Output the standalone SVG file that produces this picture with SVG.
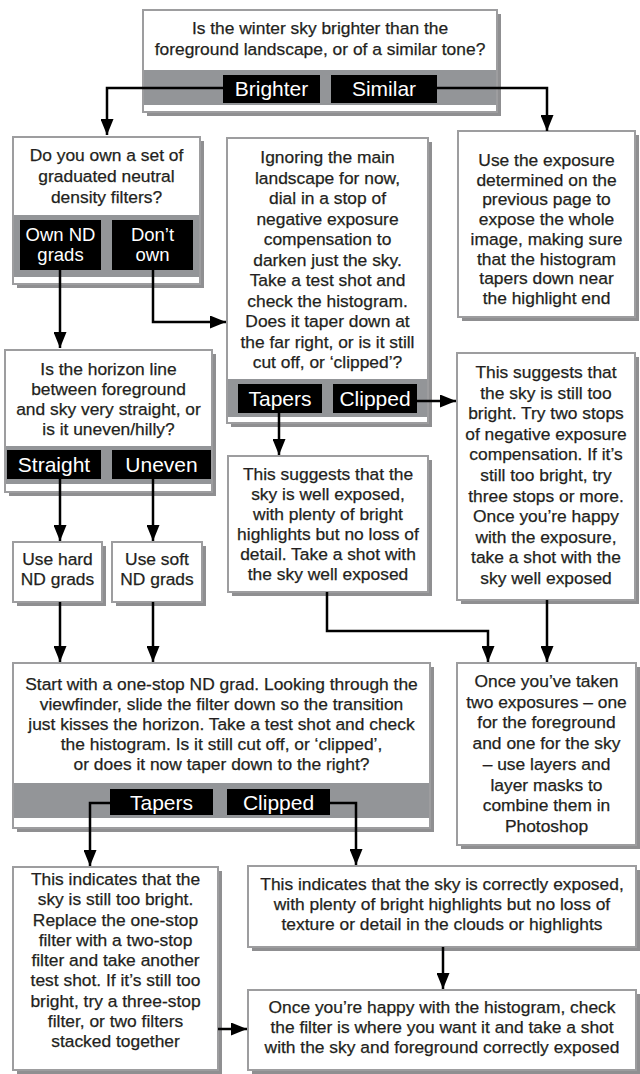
<svg xmlns="http://www.w3.org/2000/svg" width="640" height="1074" viewBox="0 0 640 1074">
  <style>
    .shadow{fill:#8f8f91}
    .box{fill:#fff;stroke:#9d9d9f;stroke-width:2}
    .band{fill:#939598}
    .lab{fill:#000}
    .t{font-family:"Liberation Sans",Arial,sans-serif;font-size:17.4px;fill:#231f20;stroke:#231f20;stroke-width:0.25;text-anchor:middle}
    .lt{font-family:"Liberation Sans",Arial,sans-serif;font-size:21px;fill:#fff;text-anchor:middle}
    .ls{font-family:"Liberation Sans",Arial,sans-serif;font-size:18.5px;fill:#fff;text-anchor:middle}
    .wire{fill:none;stroke:#000;stroke-width:2.5;marker-end:url(#ah)}
  </style>
  <defs>
    <marker id="ah" markerUnits="userSpaceOnUse" viewBox="0 0 16 13" markerWidth="16" markerHeight="13" refX="16" refY="6.5" orient="auto">
      <path d="M0,0 L16,6.5 L0,13 z" fill="#000"/>
    </marker>
  </defs>
  <rect width="640" height="1074" fill="#fff"/>

  <!-- Q1: sky vs foreground -->
  <g id="q-sky-tone">
    <rect class="shadow" x="147" y="14" width="354" height="102"/>
    <rect class="box" x="143" y="10" width="354" height="102"/>
    <rect class="band" x="144" y="70" width="352" height="35"/>
    <rect class="lab" x="223" y="75" width="97" height="28"/>
    <rect class="lab" x="331" y="75" width="106" height="28"/>
    <text class="t" x="320" y="34">Is the winter sky brighter than the</text>
    <text class="t" x="320" y="55">foreground landscape, or of a similar tone?</text>
    <text class="lt" x="271.5" y="96">Brighter</text>
    <text class="lt" x="384" y="96">Similar</text>
  </g>

  <!-- Q2: own ND grads -->
  <g id="q-own-grads">
    <rect class="shadow" x="17" y="141" width="187" height="147"/>
    <rect class="box" x="13" y="137" width="187" height="147"/>
    <rect class="band" x="14" y="215" width="185" height="62"/>
    <rect class="lab" x="20" y="220" width="81" height="50"/>
    <rect class="lab" x="112" y="220" width="81" height="50"/>
    <text class="t" x="106.5" y="161">Do you own a set of</text>
    <text class="t" x="106.5" y="182">graduated neutral</text>
    <text class="t" x="106.5" y="203">density filters?</text>
    <text class="ls" x="60.5" y="241">Own ND</text>
    <text class="ls" x="60.5" y="261">grads</text>
    <text class="ls" x="152.5" y="241">Don’t</text>
    <text class="ls" x="152.5" y="261">own</text>
  </g>

  <!-- Q3: negative exposure compensation test -->
  <g id="q-neg-comp">
    <rect class="shadow" x="231" y="142" width="201" height="285"/>
    <rect class="box" x="227" y="138" width="201" height="285"/>
    <rect class="band" x="228" y="379" width="199" height="38"/>
    <rect class="lab" x="238" y="384" width="84" height="29"/>
    <rect class="lab" x="333" y="384" width="84" height="29"/>
    <text class="t" x="327.5" y="163">Ignoring the main</text>
    <text class="t" x="327.5" y="183.5">landscape for now,</text>
    <text class="t" x="327.5" y="204">dial in a stop of</text>
    <text class="t" x="327.5" y="224.5">negative exposure</text>
    <text class="t" x="327.5" y="245">compensation to</text>
    <text class="t" x="327.5" y="265.5">darken just the sky.</text>
    <text class="t" x="327.5" y="286">Take a test shot and</text>
    <text class="t" x="327.5" y="306.5">check the histogram.</text>
    <text class="t" x="327.5" y="327">Does it taper down at</text>
    <text class="t" x="327.5" y="347.5">the far right, or is it still</text>
    <text class="t" x="327.5" y="368">cut off, or ‘clipped’?</text>
    <text class="lt" x="280" y="406">Tapers</text>
    <text class="lt" x="375" y="406">Clipped</text>
  </g>

  <!-- similar tone: single exposure -->
  <g id="a-single-exposure">
    <rect class="shadow" x="462" y="135" width="177" height="186"/>
    <rect class="box" x="458" y="131" width="177" height="186"/>
    <text class="t" x="546.5" y="166">Use the exposure</text>
    <text class="t" x="546.5" y="185.7">determined on the</text>
    <text class="t" x="546.5" y="205.4">previous page to</text>
    <text class="t" x="546.5" y="225.1">expose the whole</text>
    <text class="t" x="546.5" y="244.8">image, making sure</text>
    <text class="t" x="546.5" y="264.5">that the histogram</text>
    <text class="t" x="546.5" y="284.2">tapers down near</text>
    <text class="t" x="546.5" y="304">the highlight end</text>
  </g>

  <!-- Q4: horizon shape -->
  <g id="q-horizon">
    <rect class="shadow" x="9" y="354" width="207" height="142"/>
    <rect class="box" x="5" y="350" width="207" height="142"/>
    <rect class="band" x="6" y="446" width="205" height="38"/>
    <rect class="lab" x="7" y="450" width="94" height="29"/>
    <rect class="lab" x="112" y="450" width="99" height="29"/>
    <text class="t" x="108.5" y="375">Is the horizon line</text>
    <text class="t" x="108.5" y="395">between foreground</text>
    <text class="t" x="108.5" y="415">and sky very straight, or</text>
    <text class="t" x="108.5" y="435">is it uneven/hilly?</text>
    <text class="lt" x="54" y="472">Straight</text>
    <text class="lt" x="161.5" y="472">Uneven</text>
  </g>

  <!-- sky well exposed -->
  <g id="a-sky-well-exposed">
    <rect class="shadow" x="232" y="460" width="200" height="136"/>
    <rect class="box" x="228" y="456" width="200" height="136"/>
    <text class="t" x="328" y="480">This suggests that the</text>
    <text class="t" x="328" y="500">sky is well exposed,</text>
    <text class="t" x="328" y="520">with plenty of bright</text>
    <text class="t" x="328" y="540">highlights but no loss of</text>
    <text class="t" x="328" y="560">detail. Take a shot with</text>
    <text class="t" x="328" y="580">the sky well exposed</text>
  </g>

  <!-- sky still too bright -->
  <g id="a-sky-too-bright">
    <rect class="shadow" x="461" y="357" width="178" height="247"/>
    <rect class="box" x="457" y="353" width="178" height="247"/>
    <text class="t" x="546" y="378">This suggests that</text>
    <text class="t" x="546" y="398.6">the sky is still too</text>
    <text class="t" x="546" y="419.2">bright. Try two stops</text>
    <text class="t" x="546" y="439.8">of negative exposure</text>
    <text class="t" x="546" y="460.4">compensation. If it’s</text>
    <text class="t" x="546" y="481">still too bright, try</text>
    <text class="t" x="546" y="501.6">three stops or more.</text>
    <text class="t" x="546" y="522.2">Once you’re happy</text>
    <text class="t" x="546" y="542.8">with the exposure,</text>
    <text class="t" x="546" y="563.4">take a shot with the</text>
    <text class="t" x="546" y="584">sky well exposed</text>
  </g>

  <!-- hard grads -->
  <g id="a-hard-grads">
    <rect class="shadow" x="17" y="546" width="89" height="60"/>
    <rect class="box" x="13" y="542" width="89" height="60"/>
    <text class="t" x="57.5" y="565">Use hard</text>
    <text class="t" x="57.5" y="585">ND grads</text>
  </g>

  <!-- soft grads -->
  <g id="a-soft-grads">
    <rect class="shadow" x="116" y="546" width="90" height="60"/>
    <rect class="box" x="112" y="542" width="90" height="60"/>
    <text class="t" x="157" y="565">Use soft</text>
    <text class="t" x="157" y="585">ND grads</text>
  </g>

  <!-- Q5: one-stop grad test -->
  <g id="q-one-stop">
    <rect class="shadow" x="17" y="667" width="417" height="165"/>
    <rect class="box" x="13" y="663" width="417" height="165"/>
    <rect class="band" x="14" y="783" width="415" height="35"/>
    <rect class="lab" x="110" y="789" width="103" height="26"/>
    <rect class="lab" x="227" y="789" width="103" height="26"/>
    <text class="t" x="221.5" y="690">Start with a one-stop ND grad. Looking through the</text>
    <text class="t" x="221.5" y="710">viewfinder, slide the filter down so the transition</text>
    <text class="t" x="221.5" y="730">just kisses the horizon. Take a test shot and check</text>
    <text class="t" x="221.5" y="750">the histogram. Is it still cut off, or ‘clipped’,</text>
    <text class="t" x="221.5" y="770">or does it now taper down to the right?</text>
    <text class="lt" x="161.5" y="810">Tapers</text>
    <text class="lt" x="278.5" y="810">Clipped</text>
  </g>

  <!-- blend two exposures -->
  <g id="a-blend">
    <rect class="shadow" x="461" y="667" width="179" height="182"/>
    <rect class="box" x="457" y="663" width="179" height="182"/>
    <text class="t" x="546.5" y="687">Once you’ve taken</text>
    <text class="t" x="546.5" y="707.7">two exposures – one</text>
    <text class="t" x="546.5" y="728.4">for the foreground</text>
    <text class="t" x="546.5" y="749.1">and one for the sky</text>
    <text class="t" x="546.5" y="769.8">– use layers and</text>
    <text class="t" x="546.5" y="790.5">layer masks to</text>
    <text class="t" x="546.5" y="811.2">combine them in</text>
    <text class="t" x="546.5" y="832">Photoshop</text>
  </g>

  <!-- stronger filter -->
  <g id="a-stronger-filter">
    <rect class="shadow" x="17" y="871" width="205" height="203"/>
    <rect class="box" x="13" y="867" width="205" height="203"/>
    <text class="t" x="115.5" y="885">This indicates that the</text>
    <text class="t" x="115.5" y="905.25">sky is still too bright.</text>
    <text class="t" x="115.5" y="925.5">Replace the one-stop</text>
    <text class="t" x="115.5" y="945.75">filter with a two-stop</text>
    <text class="t" x="115.5" y="966">filter and take another</text>
    <text class="t" x="115.5" y="986.25">test shot. If it’s still too</text>
    <text class="t" x="115.5" y="1006.5">bright, try a three-stop</text>
    <text class="t" x="115.5" y="1026.75">filter, or two filters</text>
    <text class="t" x="115.5" y="1047">stacked together</text>
  </g>

  <!-- correctly exposed -->
  <g id="a-correct">
    <rect class="shadow" x="252" y="870" width="388" height="81"/>
    <rect class="box" x="248" y="866" width="388" height="81"/>
    <text class="t" x="442" y="890">This indicates that the sky is correctly exposed,</text>
    <text class="t" x="442" y="910">with plenty of bright highlights but no loss of</text>
    <text class="t" x="442" y="930">texture or detail in the clouds or highlights</text>
  </g>

  <!-- final shot -->
  <g id="a-final-shot">
    <rect class="shadow" x="252" y="994" width="388" height="80"/>
    <rect class="box" x="248" y="990" width="388" height="80"/>
    <text class="t" x="442" y="1013">Once you’re happy with the histogram, check</text>
    <text class="t" x="442" y="1033">the filter is where you want it and take a shot</text>
    <text class="t" x="442" y="1053">with the sky and foreground correctly exposed</text>
  </g>

  <!-- connectors, drawn over the answer bands -->
  <g id="connectors">
    <path class="wire" d="M223,88 H107 V135"/>
    <path class="wire" d="M437,88 H547 V131"/>
    <path class="wire" d="M60,270 V348"/>
    <path class="wire" d="M153,270 V322 H226"/>
    <path class="wire" d="M417,401 H456"/>
    <path class="wire" d="M279,413 V455"/>
    <path class="wire" d="M60,479 V541"/>
    <path class="wire" d="M153,479 V541"/>
    <path class="wire" d="M60,602 V662"/>
    <path class="wire" d="M153,602 V662"/>
    <path class="wire" d="M327,592 V631 H488 V662"/>
    <path class="wire" d="M547,600 V662"/>
    <path class="wire" d="M110,803 H90 V866"/>
    <path class="wire" d="M330,803 H356 V865"/>
    <path class="wire" d="M443,947 V989"/>
    <path class="wire" d="M218,1029 H247"/>
  </g>
</svg>
